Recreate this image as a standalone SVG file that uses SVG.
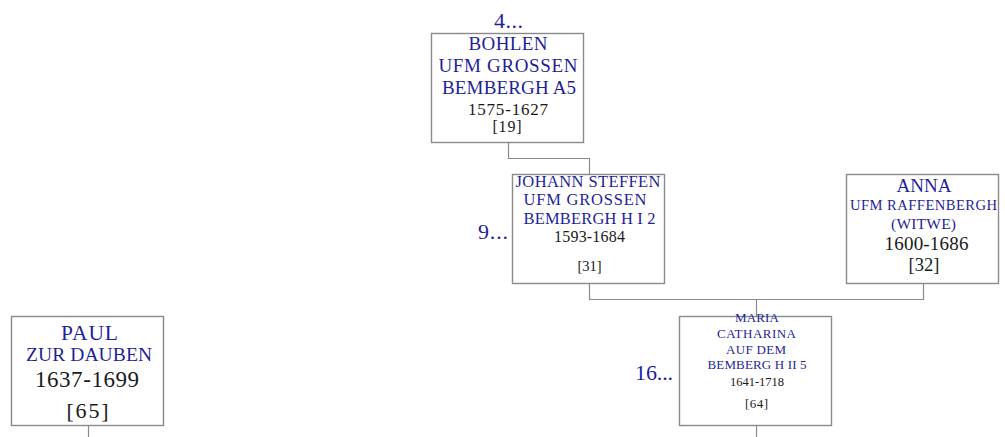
<svg xmlns="http://www.w3.org/2000/svg" width="1005" height="437" viewBox="0 0 1005 437">
<style>
.box{fill:#fff;stroke:#8a8a8a;stroke-width:1.4}
.con{fill:none;stroke:#8a8a8a;stroke-width:1.2}
text{font-family:"Liberation Serif","DejaVu Serif",serif;text-anchor:middle}
.n{fill:#1f1f96}
.d{fill:#1a1a1a}
.lab{fill:#1f1f96;text-anchor:end}
</style>
<rect width="1005" height="437" fill="#fff"/>
<g id="connectors">
<path class="con" d="M508.5,143 V158.5 H589.5 V174"/>
<path class="con" d="M589.5,284 V299.5 H923.5 V283"/>
<path class="con" d="M756.5,299.5 V316"/>
<path class="con" d="M756.5,426 V437"/>
<path class="con" d="M88.5,426 V437"/>
</g>
<g id="node-bohlen">
<rect class="box" x="431.5" y="33.5" width="152" height="109"/>
<text class="n" x="508" y="50" font-size="19" textLength="79">BOHLEN</text>
<text class="n" x="508" y="71.5" font-size="19" textLength="139">UFM GROSSEN</text>
<text class="n" x="509" y="94" font-size="19" textLength="134">BEMBERGH A5</text>
<text class="d" x="508" y="114.5" font-size="17" textLength="80">1575-1627</text>
<text class="d" x="507" y="132" font-size="16" textLength="29">[19]</text>
<text class="lab" x="523" y="28" font-size="22" textLength="29">4...</text>
</g>
<g id="node-johann">
<rect class="box" x="512.5" y="174.5" width="152" height="109"/>
<text class="n" x="588" y="186.5" font-size="16.5" textLength="145">JOHANN STEFFEN</text>
<text class="n" x="585" y="204.5" font-size="16.5" textLength="123">UFM GROSSEN</text>
<text class="n" x="589.5" y="223.5" font-size="16.5" textLength="132">BEMBERGH H I 2</text>
<text class="d" x="589.5" y="241.5" font-size="16" textLength="71">1593-1684</text>
<text class="d" x="589.5" y="270.5" font-size="14.5" textLength="24">[31]</text>
<text class="lab" x="508" y="239" font-size="22" textLength="30">9...</text>
</g>
<g id="node-anna">
<rect class="box" x="846.5" y="174.5" width="152" height="109"/>
<text class="n" x="924" y="192" font-size="19" textLength="55">ANNA</text>
<text class="n" x="923.5" y="210" font-size="14.6" textLength="147">UFM RAFFENBERGH</text>
<text class="n" x="923.5" y="228.5" font-size="15.5" textLength="65">(WITWE)</text>
<text class="d" x="926.5" y="249.5" font-size="19" textLength="84">1600-1686</text>
<text class="d" x="924" y="271" font-size="18.5" textLength="31">[32]</text>
</g>
<g id="node-maria">
<rect class="box" x="679.5" y="316.5" width="152" height="109"/>
<text class="n" x="757" y="322" font-size="13" textLength="44">MARIA</text>
<text class="n" x="756.5" y="338" font-size="13" textLength="79">CATHARINA</text>
<text class="n" x="756" y="353.5" font-size="13" textLength="60">AUF DEM</text>
<text class="n" x="757" y="369" font-size="13" textLength="99">BEMBERG H II 5</text>
<text class="d" x="757" y="386" font-size="12.5" textLength="54">1641-1718</text>
<text class="d" x="756.5" y="408" font-size="13" textLength="23">[64]</text>
<text class="lab" x="673" y="380" font-size="22" textLength="38">16...</text>
</g>
<g id="node-paul">
<rect class="box" x="11.5" y="316.5" width="152" height="109"/>
<text class="n" x="89.5" y="340" font-size="21.5" textLength="57">PAUL</text>
<text class="n" x="89" y="361" font-size="19.5" textLength="126">ZUR DAUBEN</text>
<text class="d" x="87" y="387" font-size="23" textLength="104">1637-1699</text>
<text class="d" x="87.5" y="418" font-size="22" textLength="42">[65]</text>
</g>
</svg>
